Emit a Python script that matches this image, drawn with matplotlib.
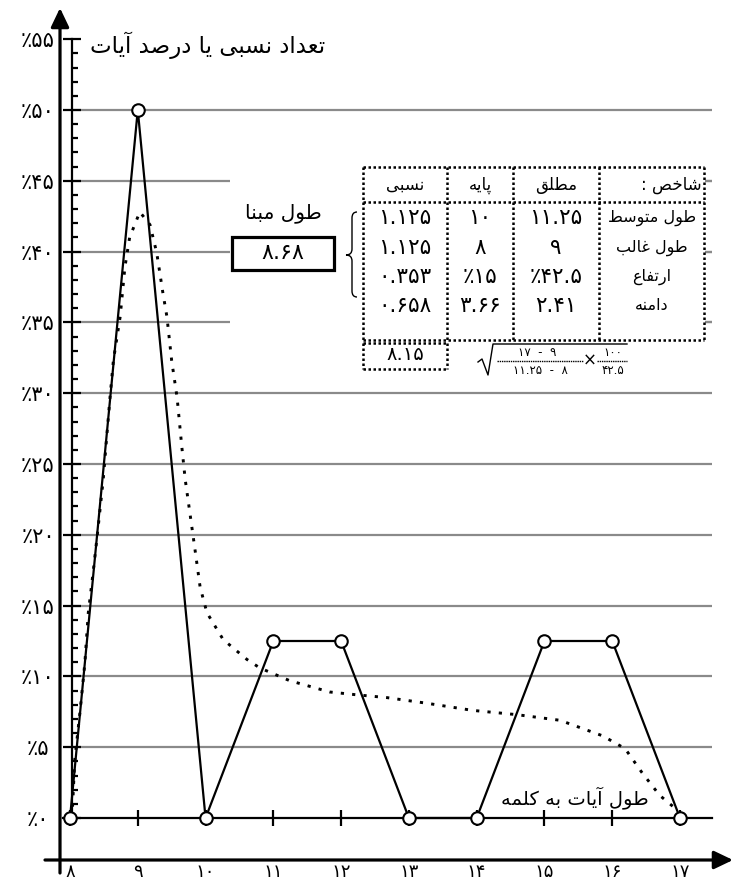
import matplotlib.pyplot as plt
from matplotlib.transforms import Affine2D
from matplotlib.patches import Rectangle, PathPatch
from matplotlib.path import Path

plt.rcParams['font.family'] = ['DejaVu Sans']

# ---- data ----
lengths = [8, 9, 10, 11, 12, 13, 14, 15, 16, 17]
percents = [0, 50, 0, 12.5, 12.5, 0, 0, 12.5, 12.5, 0]

curve_x = [8.03, 8.07, 8.15, 8.22, 8.27, 8.34, 8.41, 8.49, 8.55, 8.59, 8.64, 8.74,
           8.81, 8.88, 9.03, 9.18, 9.28, 9.37, 9.43, 9.50, 9.58, 9.65, 9.70, 9.77,
           9.84, 9.92, 10.02, 10.26, 10.61, 10.80, 11.24, 11.83, 12.23, 12.68,
           13.27, 13.94, 14.59, 15.23, 15.86, 16.19, 16.44, 16.70, 16.90, 17.0]
curve_y = [0, 4.1, 7.6, 11.0, 14.5, 17.3, 20.3, 23.9, 27.4, 29.7, 32.3, 35.4,
           38.9, 41.0, 42.8, 41.9, 39.9, 37.1, 35.4, 32.3, 29.7, 26.2, 23.9, 21.5,
           19.1, 16.3, 14.5, 12.6, 11.2, 10.6, 9.7, 8.9, 8.7, 8.5,
           8.1, 7.6, 7.3, 6.9, 5.8, 4.9, 3.2, 1.6, 0.8, 0]

y_ticks = list(range(0, 56, 5))
grid_levels = list(range(5, 51, 5))

col_headers = ['نسبی', 'پایه', 'مطلق', 'شاخص :']
row_names = ['طول متوسط', 'طول غالب', 'ارتفاع', 'دامنه']
absolute = ['۱۱.۲۵', '۹', '٪۴۲.۵', '۲.۴۱']
base = ['۱۰', '۸', '٪۱۵', '۳.۶۶']
relative = ['۱.۱۲۵', '۱.۱۲۵', '۰.۳۵۳', '۰.۶۵۸']
index_value = '۸.۱۵'
base_length = '۸.۶۸'
base_title = 'طول مبنا'
y_title = 'تعداد نسبی یا درصد آیات'
x_title = 'طول آیات به کلمه'

# ---- minimal arabic/persian shaping (matplotlib does no shaping) ----
FORMS = {
    'آ': (0xFE81, 2), 'ا': (0xFE8D, 2), 'ب': (0xFE8F, 4), 'پ': (0xFB56, 4),
    'ت': (0xFE95, 4), 'ث': (0xFE99, 4), 'ج': (0xFE9D, 4), 'چ': (0xFB7A, 4),
    'ح': (0xFEA1, 4), 'خ': (0xFEA5, 4), 'د': (0xFEA9, 2), 'ذ': (0xFEAB, 2),
    'ر': (0xFEAD, 2), 'ز': (0xFEAF, 2), 'ژ': (0xFB8A, 2), 'س': (0xFEB1, 4),
    'ش': (0xFEB5, 4), 'ص': (0xFEB9, 4), 'ض': (0xFEBD, 4), 'ط': (0xFEC1, 4),
    'ظ': (0xFEC5, 4), 'ع': (0xFEC9, 4), 'غ': (0xFECD, 4), 'ف': (0xFED1, 4),
    'ق': (0xFED5, 4), 'ک': (0xFB8E, 4), 'گ': (0xFB92, 4), 'ل': (0xFEDD, 4),
    'م': (0xFEE1, 4), 'ن': (0xFEE5, 4), 'ه': (0xFEE9, 4), 'و': (0xFEED, 2),
    'ی': (0xFBFC, 4),
}


def fa(text):
    out = []
    for i, ch in enumerate(text):
        if ch not in FORMS:
            out.append(ch)
            continue
        cp, kind = FORMS[ch]
        prev = text[i - 1] if i > 0 else ''
        nxt = text[i + 1] if i + 1 < len(text) else ''
        jp = prev in FORMS and FORMS[prev][1] == 4
        jn = kind == 4 and nxt in FORMS
        form = 3 if (jp and jn) else 1 if jp else 2 if jn else 0
        out.append(chr(cp + form))
    return ''.join(out)[::-1]


def pdig(v):
    return str(v).translate(str.maketrans('0123456789', '۰۱۲۳۴۵۶۷۸۹'))


W, H = 734, 881
fig = plt.figure(figsize=(W / 100, H / 100), dpi=100)
ax = fig.add_axes([0, 0, 1, 1])
# pixel calibration: x=8 -> 70px, x=17 -> 680px ; y=0 -> 818px, y=50 -> 110px
xs = (680 - 70) / 9
ys = (818 - 110) / 50
ax.set_xlim(8 - 70 / xs, 8 + (W - 70) / xs)
ax.set_ylim(-(H - 818) / ys, 818 / ys)
ax.patch.set_visible(False)
T = Affine2D().scale(1 / W, -1 / H).translate(0, 1) + fig.transFigure  # layout in pixels

for s in ['top', 'right']:
    ax.spines[s].set_visible(False)
ax.spines['left'].set_position(('data', 8.03))
ax.spines['left'].set_bounds(0, 55)
ax.spines['left'].set_linewidth(1.6)
ax.spines['bottom'].set_position(('data', 0))
ax.spines['bottom'].set_bounds(7.9, 17.47)
ax.spines['bottom'].set_linewidth(1.6)

ax.set_yticks(y_ticks, ['٪' + pdig(v) for v in y_ticks])
ax.set_yticks(range(0, 56), minor=True)
ax.tick_params(axis='y', which='major', direction='inout', length=13, width=1.6,
               pad=18, labelsize=15)
ax.tick_params(axis='y', which='minor', direction='in', length=4.5, width=1.6)
for lab in ax.get_yticklabels():
    lab.set_ha('center')
ax.set_xticks(lengths, [pdig(v) for v in lengths])
ax.tick_params(axis='x', direction='inout', length=12, width=1.6, pad=36.5, labelsize=13)
for lab in ax.get_xticklabels():
    lab.set_va('baseline')

ax.hlines(grid_levels, 8.03, 17.47, color='#8a8a8a', lw=1.6, zorder=1)

# outer arrow axes
arrow = dict(arrowstyle='-|>,head_length=1.15,head_width=0.55', lw=2.3, color='k',
             mutation_scale=10, shrinkA=0, shrinkB=0)
ax.annotate('', xy=(60, 8), xytext=(60, 873), xycoords=T, textcoords=T, arrowprops=arrow)
ax.annotate('', xy=(733, 860), xytext=(45, 860), xycoords=T, textcoords=T, arrowprops=arrow)

# white panel behind the table
ax.add_patch(Rectangle((230, 163), 475, 215, transform=T, facecolor='white',
                       edgecolor='none', zorder=2))

ax.plot(curve_x, curve_y, color='k', lw=2.1, linestyle=(0, (1.1, 2.8)), zorder=3)
ax.plot(lengths, percents, color='k', lw=1.6, marker='o', markersize=9,
        markerfacecolor='white', markeredgewidth=1.5, zorder=4, clip_on=False)

ax.text(90, 45, fa(y_title), transform=T, ha='left', va='center', fontsize=16.5)
ax.text(575, 798, fa(x_title), transform=T, ha='center', va='center', fontsize=14)

# base length box
ax.text(283, 213, fa(base_title), transform=T, ha='center', va='center', fontsize=14.5, zorder=5)
ax.add_patch(Rectangle((232, 237), 102, 33, transform=T, facecolor='white',
                       edgecolor='k', lw=2.3, zorder=5))
ax.text(283, 253, base_length, transform=T, ha='center', va='center', fontsize=16, zorder=6)

# brace
bx, top, bot, mid = 352, 212, 297, 255
verts = [(bx + 5, top), (bx, top), (bx, top + 6), (bx, mid - 6), (bx, mid), (bx - 6, mid),
         (bx, mid), (bx, mid + 6), (bx, bot - 6), (bx, bot), (bx + 5, bot)]
codes = [Path.MOVETO, Path.CURVE3, Path.CURVE3, Path.LINETO, Path.CURVE3, Path.CURVE3,
         Path.CURVE3, Path.CURVE3, Path.LINETO, Path.CURVE3, Path.CURVE3]
ax.add_patch(PathPatch(Path(verts, codes), transform=T, facecolor='none',
                       edgecolor='k', lw=1, zorder=5))

# table
dot = dict(color='k', lw=1.8, linestyle=(0, (1, 1)), transform=T, zorder=5)
L, R, TOP, HB, BOT = 363, 704, 167, 202, 340
cols = [L, 447, 513, 599, R]
for x in cols:
    ax.plot([x, x], [TOP, BOT], **dot)
for y in [TOP, HB, BOT]:
    ax.plot([L, R], [y, y], **dot)
# right stubs of the hidden grid lines
for g in grid_levels:
    if 32 < g < 48:
        ax.hlines(g, 8 + (705 - 70) / xs, 17.47, color='#8a8a8a', lw=1.6, zorder=1)

centers = [405, 480, 556]
for c, h in zip(centers, col_headers[:3]):
    ax.text(c, 185, fa(h), transform=T, ha='center', va='center', fontsize=12, zorder=6)
ax.text(702, 185, fa(col_headers[3]), transform=T, ha='right', va='center', fontsize=12, zorder=6)
row_y = [218, 248, 277, 306]
for y, name, a, b, r in zip(row_y, row_names, absolute, base, relative):
    ax.text(652, y, fa(name), transform=T, ha='center', va='center', fontsize=11.5, zorder=6)
    for c, v in zip(centers, [r, b, a]):
        ax.text(c, y, v, transform=T, ha='center', va='center', fontsize=15.5, zorder=6)

# index box
for x in [L, 447]:
    ax.plot([x, x], [343, 369], **dot)
for y in [343, 369]:
    ax.plot([L, 447], [y, y], **dot)
ax.text(405, 354, index_value, transform=T, ha='center', va='center', fontsize=14, zorder=6)

# formula
ax.plot([478, 482, 488, 493, 627], [362, 359, 375, 344, 344], color='k', lw=1,
        transform=T, zorder=6)
ax.plot([497, 583], [361, 361], color='k', lw=1, linestyle=(0, (1, 0.6)), transform=T, zorder=6)
ax.plot([597, 627], [361, 361], color='k', lw=1, linestyle=(0, (1, 0.6)), transform=T, zorder=6)
ax.text(537, 353, '۱۷  -  ۹', transform=T, ha='center', va='center', fontsize=8.5, zorder=6)
ax.text(540, 370, '۱۱.۲۵  -  ۸', transform=T, ha='center', va='center', fontsize=8.5, zorder=6)
ax.text(590, 361, '×', transform=T, ha='center', va='center', fontsize=12, zorder=6)
ax.text(613, 353, '۱۰۰', transform=T, ha='center', va='center', fontsize=8.5, zorder=6)
ax.text(613, 370, '۴۲.۵', transform=T, ha='center', va='center', fontsize=8.5, zorder=6)

fig.savefig('out.png', dpi=100)
